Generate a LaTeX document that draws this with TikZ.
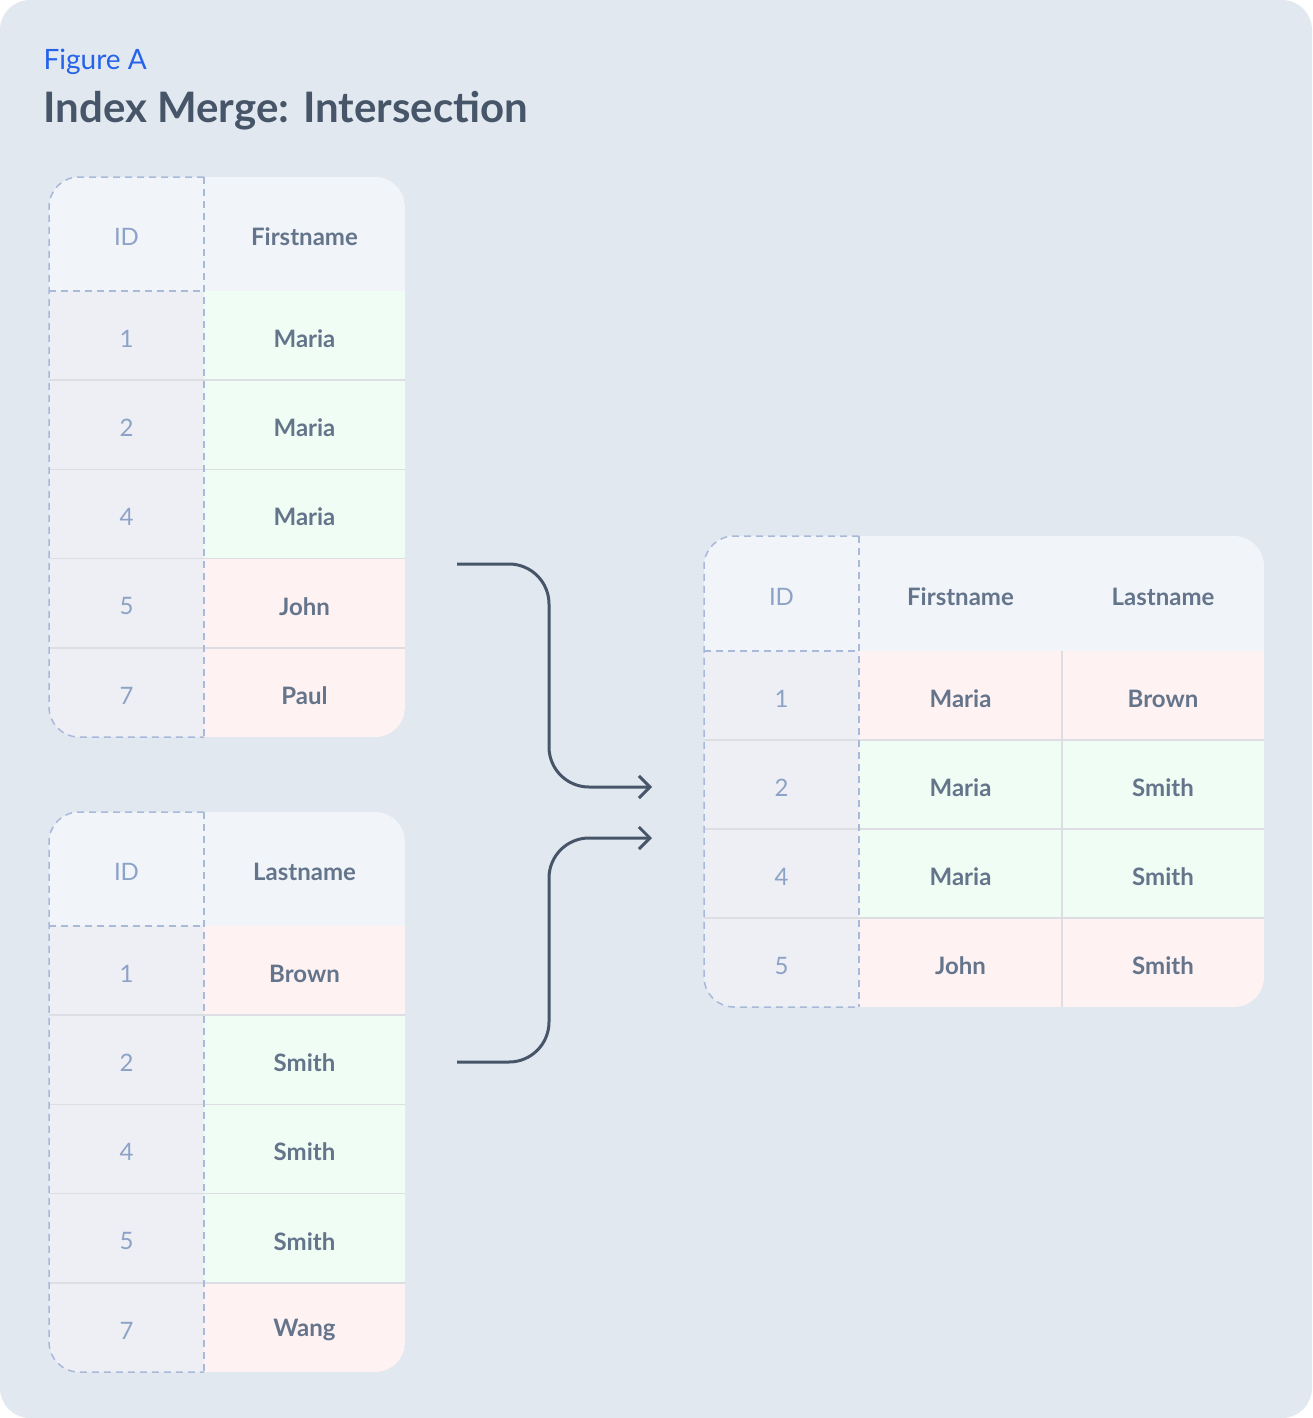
\documentclass[tikz,border=0pt]{standalone}
\usepackage{fontspec}
\setmainfont{Lato}
\usetikzlibrary{arrows.meta}
\definecolor{bgcol}{HTML}{E2E8F0}
\definecolor{headcol}{HTML}{F1F5F9}
\definecolor{idcol}{HTML}{EEEFF4}
\definecolor{greencol}{HTML}{F0FDF4}
\definecolor{redcol}{HTML}{FEF2F2}
\definecolor{dashcol}{HTML}{A9B9D9}
\definecolor{sepcol}{HTML}{DCDEE4}
\definecolor{idtext}{HTML}{8CA2C6}
\definecolor{nametext}{HTML}{64748B}
\definecolor{titlecol}{HTML}{475569}
\definecolor{figcol}{HTML}{2563EB}

\tikzset{
  idlabel/.style={text=idtext, font=\fontsize{24}{28}\selectfont},
  namelabel/.style={text=nametext, font=\fontsize{24}{28}\selectfont\bfseries},
  sepline/.style={draw=sepcol, line width=1.5pt},
  dashline/.style={draw=dashcol, line width=1.5pt, dash pattern=on 7pt off 5pt},
  flow/.style={draw=titlecol, line width=3pt, rounded corners=40pt, -{Straight Barb[length=11pt,width=22pt]}}
}

% cell: name, x1, y1, x2, y2, fill, text, label style
\newcommand{\tcell}[8]{%
  \fill[#6] (#2,#3) rectangle (#4,#5);
  \node[#8] (#1) at ({(#2+#4)/2},{(#3+#5)/2+3}) {#7};
}

\begin{document}
\begin{tikzpicture}[x=1pt,y=-1pt]
\useasboundingbox (0,0) rectangle (1312,1418);
\fill[bgcol] (0,0) [rounded corners=30pt] rectangle (1312,1418);

\node[anchor=base west, text=figcol, font=\fontsize{28}{32}\selectfont] (fig) at (40,70) {Figure A};
\node[anchor=base west, text=titlecol, font=\fontsize{42}{48}\selectfont\bfseries] (title) at (40,123) {Index Merge: Intersection};

% table 1: ID / Firstname
\begin{scope}
\clip[rounded corners=30pt] (49,177) rectangle (405,737);
\tcell{a0}{49}{177}{204}{291}{headcol}{ID}{idlabel}
\tcell{a00}{204}{177}{405}{291}{headcol}{Firstname}{namelabel}
\foreach \id/\val/\col [count=\i] in {1/Maria/greencol,2/Maria/greencol,4/Maria/greencol,5/John/redcol,7/Paul/redcol}{
  \pgfmathsetmacro{\ya}{291+(\i-1)*89.2}
  \pgfmathsetmacro{\yb}{\ya+89.2}
  \tcell{a\i}{49}{\ya}{204}{\yb}{idcol}{\id}{idlabel}
  \tcell{av\i}{204}{\ya}{405}{\yb}{\col}{\val}{namelabel}
  \ifnum\i>1 \draw[sepline] (49,\ya) -- (405,\ya); \fi
}
\end{scope}
\draw[dashline, rounded corners=30pt] (204,177) -- (49,177) -- (49,737) -- (204,737);
\draw[dashline] (204,177) -- (204,737) (49,291) -- (204,291);

% table 2: ID / Lastname
\begin{scope}
\clip[rounded corners=30pt] (49,812) rectangle (405,1372);
\tcell{b0}{49}{812}{204}{926}{headcol}{ID}{idlabel}
\tcell{b00}{204}{812}{405}{926}{headcol}{Lastname}{namelabel}
\foreach \id/\val/\col [count=\i] in {1/Brown/redcol,2/Smith/greencol,4/Smith/greencol,5/Smith/greencol,7/Wang/redcol}{
  \pgfmathsetmacro{\ya}{926+(\i-1)*89.2}
  \pgfmathsetmacro{\yb}{\ya+89.2}
  \tcell{b\i}{49}{\ya}{204}{\yb}{idcol}{\id}{idlabel}
  \tcell{bv\i}{204}{\ya}{405}{\yb}{\col}{\val}{namelabel}
  \ifnum\i>1 \draw[sepline] (49,\ya) -- (405,\ya); \fi
}
\end{scope}
\draw[dashline, rounded corners=30pt] (204,812) -- (49,812) -- (49,1372) -- (204,1372);
\draw[dashline] (204,812) -- (204,1372) (49,926) -- (204,926);

% table 3: merged result
\begin{scope}
\clip[rounded corners=30pt] (704,536) rectangle (1264,1007);
\tcell{c0}{704}{536}{859}{651}{headcol}{ID}{idlabel}
\tcell{c00}{859}{536}{1062}{651}{headcol}{Firstname}{namelabel}
\tcell{c000}{1062}{536}{1264}{651}{headcol}{Lastname}{namelabel}
\foreach \id/\fn/\ln/\col [count=\i] in {1/Maria/Brown/redcol,2/Maria/Smith/greencol,4/Maria/Smith/greencol,5/John/Smith/redcol}{
  \pgfmathsetmacro{\ya}{651+(\i-1)*89}
  \pgfmathsetmacro{\yb}{\ya+89}
  \tcell{c\i}{704}{\ya}{859}{\yb}{idcol}{\id}{idlabel}
  \tcell{cf\i}{859}{\ya}{1062}{\yb}{\col}{\fn}{namelabel}
  \tcell{cl\i}{1062}{\ya}{1264}{\yb}{\col}{\ln}{namelabel}
  \ifnum\i>1 \draw[sepline] (704,\ya) -- (1264,\ya); \fi
}
\draw[sepline] (1062,651) -- (1062,1007);
\end{scope}
\draw[dashline, rounded corners=30pt] (859,536) -- (704,536) -- (704,1007) -- (859,1007);
\draw[dashline] (859,536) -- (859,1007) (704,651) -- (859,651);

% connectors
\coordinate (from1) at (457,564);
\coordinate (from2) at (457,1062);
\coordinate (to1) at (652,787);
\coordinate (to2) at (652,838);
\draw[flow] (from1) -| (549,787) -- (to1);
\draw[flow] (from2) -| (549,838) -- (to2);
\end{tikzpicture}
\end{document}
